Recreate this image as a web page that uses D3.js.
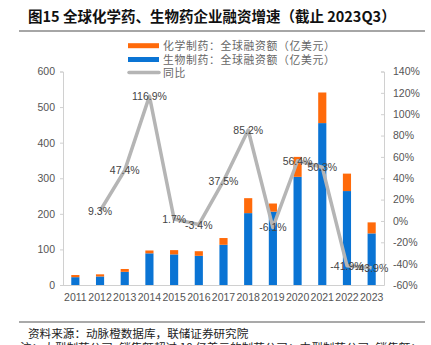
<!DOCTYPE html>
<html><head><meta charset="utf-8">
<script src="https://cdn.jsdelivr.net/npm/d3@7"></script>
<style>
body{margin:0;background:#fff;}
svg{display:block;font-family:"Liberation Sans",Arial,sans-serif;}
</style></head>
<body><svg id="c" width="431" height="345"></svg>
<script>
const years = ["2011","2012","2013","2014","2015","2016","2017","2018","2019","2020","2021","2022","2023"];
const bioValues = [22,24,37,89,86,82,113,202,206,304,455,264,145];
const chemValues = [6,6,8,8,12,13,19,42,23,56,86,49,31];
const growth = [null,9.3,47.4,116.9,1.7,-3.4,37.5,85.2,-6.1,56.4,50.3,-41.9,-43.9];
const growthLabels = ["","9.3%","47.4%","116.9%","1.7%","-3.4%","37.5%","85.2%","-6.1%","56.4%","50.3%","-41.9%","-43.9%"];
const leftTicks = [0,100,200,300,400,500,600];
const rightTicks = [-60,-40,-20,0,20,40,60,80,100,120,140];
const legendLabels = ["化学制药：全球融资额（亿美元）","生物制药：全球融资额（亿美元）","同比"];

const svg = d3.select("#c");
const L = 63, R = 384, B = 285, T = 71.5;
const cBlue = "#0a74d4", cOrange = "#ff6a0a", cGray = "#b5b5b5";
const CJK = "'Noto Sans CJK SC','Noto Sans',sans-serif";

// title
svg.append("text").attr("x",28).attr("y",22).attr("font-family",CJK).attr("font-weight","bold")
  .attr("font-size",14.5).attr("fill","#111").text("图15 全球化学药、生物药企业融资增速（截止 2023Q3）");
svg.append("line").attr("x1",19).attr("x2",425).attr("y1",31).attr("y2",31).attr("stroke","#888").attr("stroke-width",1.5);

const x = d3.scaleBand().domain(years).range([L,R]).paddingInner(0.67).paddingOuter(0.335);
const y = d3.scaleLinear().domain([0,600]).range([B,T]);
const y2 = d3.scaleLinear().domain([-60,140]).range([B,T]);

// axes
const axL = svg.append("g").attr("transform",`translate(${L},0)`)
  .call(d3.axisLeft(y).tickValues(leftTicks).tickSize(3).tickPadding(5));
const axR = svg.append("g").attr("transform",`translate(${R},0)`)
  .call(d3.axisRight(y2).tickValues(rightTicks).tickSize(-3).tickPadding(9).tickFormat(d=>d+"%"));
const axB = svg.append("g").attr("transform",`translate(0,${B})`)
  .call(d3.axisBottom(x).tickSize(0).tickPadding(9));
[axL,axR,axB].forEach(g=>{
  g.select(".domain").attr("stroke","#d0d0d0");
  g.selectAll(".tick line").attr("stroke","#d0d0d0");
  g.selectAll("text").attr("fill","#555").attr("font-size",10.5).attr("font-family","'Liberation Sans',Arial,sans-serif");
});
axB.select(".domain").attr("d",`M${L},0.5H${R}`);

// bars
const data = years.map((yr,i)=>({yr,bio:bioValues[i],chem:chemValues[i]}));
svg.append("g").selectAll("rect").data(data).join("rect")
  .attr("x",d=>x(d.yr)).attr("width",x.bandwidth())
  .attr("y",d=>y(d.bio)).attr("height",d=>y(0)-y(d.bio)).attr("fill",cBlue);
svg.append("g").selectAll("rect").data(data).join("rect")
  .attr("x",d=>x(d.yr)).attr("width",x.bandwidth())
  .attr("y",d=>y(d.bio+d.chem)).attr("height",d=>y(d.bio)-y(d.bio+d.chem)).attr("fill",cOrange);

// line
const pts = years.map((yr,i)=>({yr,v:growth[i],lab:growthLabels[i]})).filter(d=>d.v!==null);
svg.append("path").datum(pts)
  .attr("d",d3.line().x(d=>x(d.yr)+x.bandwidth()/2).y(d=>y2(d.v)))
  .attr("fill","none").attr("stroke",cGray).attr("stroke-width",3.5).attr("stroke-linejoin","round");
svg.append("g").selectAll("text").data(pts).join("text")
  .attr("x",d=>x(d.yr)+x.bandwidth()/2).attr("y",d=>y2(d.v)+4)
  .attr("text-anchor","middle").attr("font-size",10.5).attr("fill","#444")
  .text(d=>d.lab);

// legend
const lg = svg.append("g");
const legColors = [cOrange,cBlue,cGray];
const legY = [45.7,59.5,72.5];
legendLabels.forEach((t,i)=>{
  if(i<2){
    lg.append("rect").attr("x",128).attr("y",legY[i]-2.5).attr("width",31).attr("height",5).attr("fill",legColors[i]);
  } else {
    lg.append("line").attr("x1",129).attr("x2",159).attr("y1",legY[i]).attr("y2",legY[i])
      .attr("stroke",legColors[i]).attr("stroke-width",3.5).attr("stroke-linecap","round");
  }
  lg.append("text").attr("x",163).attr("y",legY[i]+4).attr("font-family",CJK)
    .attr("font-size",10.8).attr("letter-spacing",0.7).attr("fill","#666").text(t);
});

// footer
svg.append("line").attr("x1",19).attr("x2",425).attr("y1",322).attr("y2",322).attr("stroke","#555").attr("stroke-width",1.2);
svg.append("text").attr("x",28).attr("y",337.5).attr("font-family",CJK).attr("font-size",11.6).attr("fill","#222")
  .text("资料来源：动脉橙数据库，联储证券研究院");
svg.append("text").attr("x",20).attr("y",352).attr("font-family",CJK).attr("font-size",11.6).attr("fill","#222")
  .text("注：大型制药公司=销售额超过 10 亿美元的制药公司；中型制药公司=销售额：");
</script></body></html>
